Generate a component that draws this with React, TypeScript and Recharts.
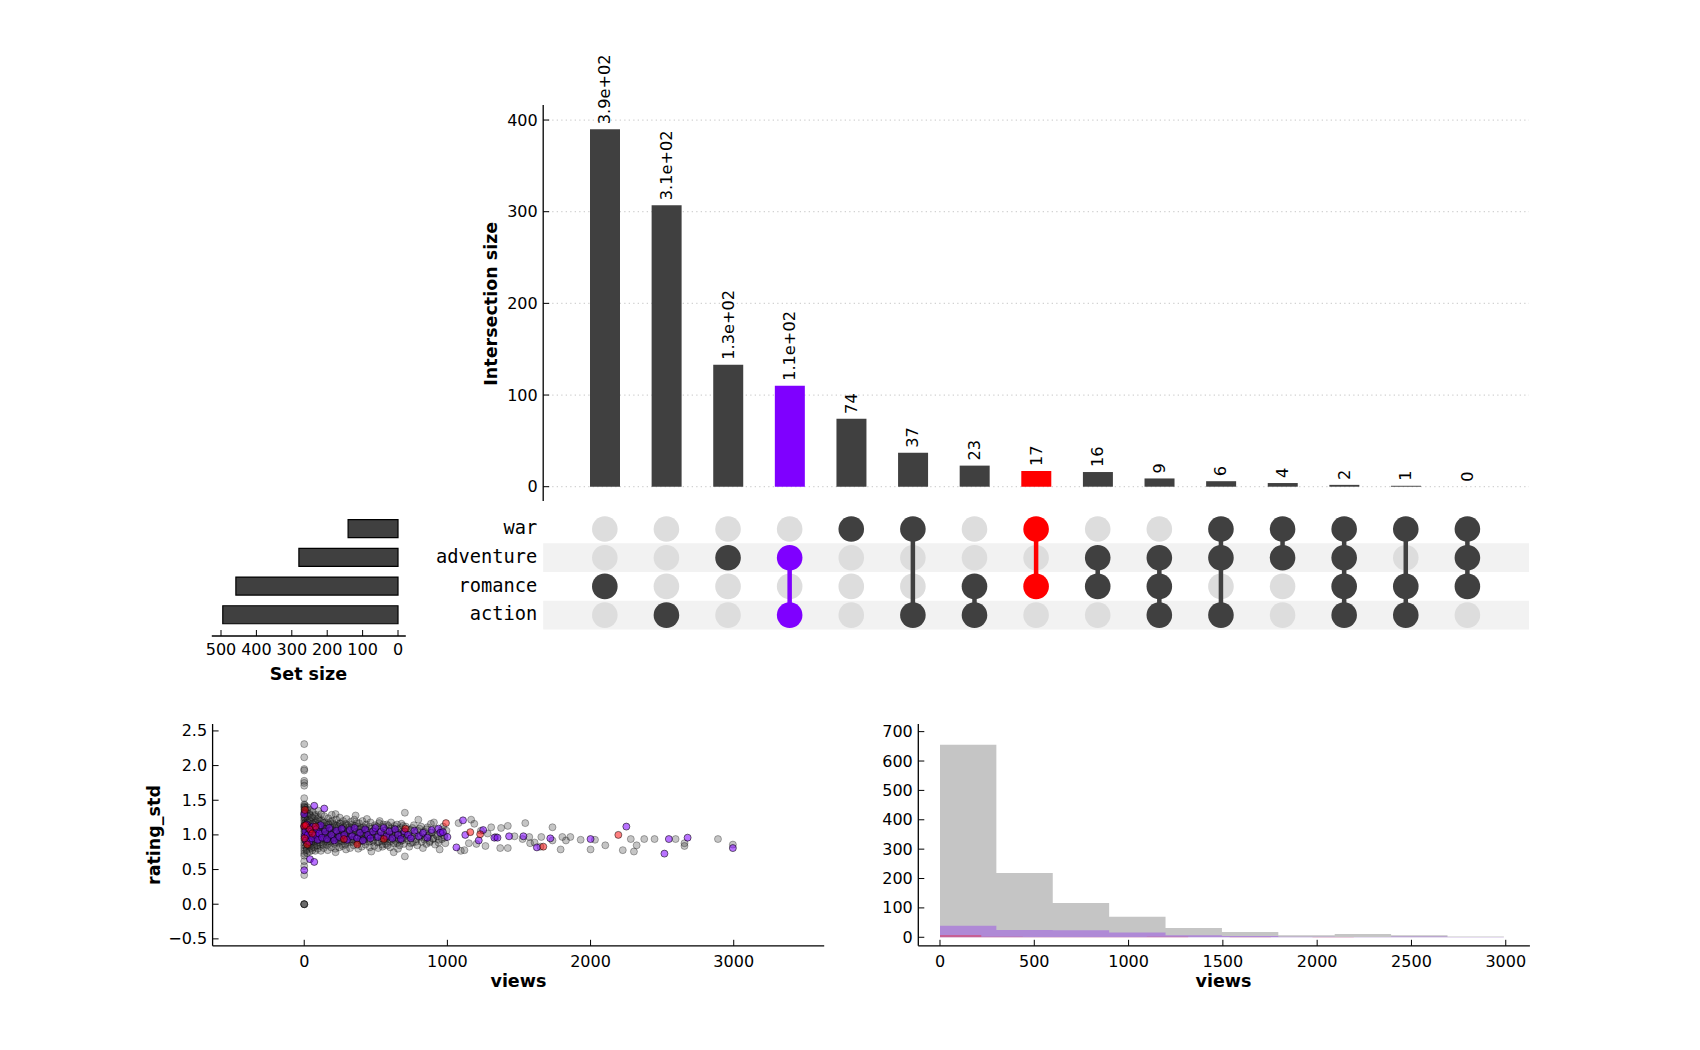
import React from "react";
import {
  Bar,
  Line,
  XAxis,
  YAxis,
  CartesianGrid,
  Cell,
  LabelList,
  ScatterChart,
  Scatter,
  ReferenceArea,
  ComposedChart,
  BarChart,
  Area,
} from "recharts";

const FONT = '"DejaVu Sans", sans-serif';
const MONO = '"DejaVu Sans Mono", monospace';
const DARK = "#404040";
const PURPLE = "#7f00ff";
const RED = "#ff0000";
const OFF = "#dddddd";

// sets, top to bottom in the matrix
const setNames = ["war", "adventure", "romance", "action"];
const setSizes = [141, 280, 458, 495];

// intersections, left to right
const interCounts = [390, 307, 133, 110, 74, 37, 23, 17, 16, 9, 6, 4, 2, 1, 0];
const interMembers = [
  ["romance"],
  ["action"],
  ["adventure"],
  ["adventure", "action"],
  ["war"],
  ["war", "action"],
  ["romance", "action"],
  ["war", "romance"],
  ["adventure", "romance"],
  ["adventure", "romance", "action"],
  ["war", "adventure", "action"],
  ["war", "adventure"],
  ["war", "adventure", "romance", "action"],
  ["war", "romance", "action"],
  ["war", "adventure", "romance"],
];
const interColors = [DARK, DARK, DARK, PURPLE, DARK, DARK, DARK, RED, DARK, DARK, DARK, DARK, DARK, DARK, DARK];

const intersectionTicks = [0, 100, 200, 300, 400];
const setSizeTicks = [500, 400, 300, 200, 100, 0];
const scatterXTicks = [0, 1000, 2000, 3000];
const scatterYTicks = [-0.5, 0, 0.5, 1, 1.5, 2, 2.5];
const histXTicks = [0, 500, 1000, 1500, 2000, 2500, 3000];
const histYTicks = [0, 100, 200, 300, 400, 500, 600, 700];

// views vs rating_std, all movies (grey)
const grayPts = [
  [0, 2.31], [0, 2.12], [0, 1.95], [0, 1.93], [0, 1.78], [0, 1.75], [0, 1.71], [0, 1.53], [0, 1.44], [0, 1.41],
  [0, 1.37], [0, 1.33], [0, 1.29], [0, 1.25], [0, 1.21], [0, 1.17], [0, 1.13], [0, 1.09], [0, 1.05], [0, 1.01],
  [0, 0.97], [0, 0.93], [0, 0.89], [0, 0.85], [0, 0.81], [0, 0.77], [0, 0.73], [0, 0.7], [0, 0.62], [0, 0.55],
  [0, 0.42], [0, 0], [0, 0], [0, 0], [0, 0],
  [4, 1.43], [6, 1.39], [8, 1.34], [9, 1.26], [11, 1.19], [12, 1.12], [14, 1.03], [15, 0.95], [17, 0.88], [18, 0.8],
  [20, 0.74], [22, 1.4], [24, 1.31], [26, 1.22], [28, 1.14], [30, 1.06], [32, 0.98], [34, 0.9], [36, 0.83], [38, 0.76],
  [40, 1.36], [43, 1.28], [45, 1.19], [47, 1.1], [50, 1.02], [52, 0.93], [55, 0.86], [57, 0.78], [60, 1.33], [63, 1.24],
  [65, 1.15], [67, 1.07], [70, 0.99], [72, 0.91], [75, 0.84], [77, 0.77], [80, 1.29], [83, 1.2], [85, 1.11], [88, 1.03],
  [90, 0.95], [92, 0.88], [95, 0.8], [98, 1.35], [100, 1.25], [103, 1.16], [106, 1.08], [108, 0.99], [110, 0.92], [113, 0.84],
  [116, 0.77], [118, 1.3], [121, 1.21], [124, 1.12], [127, 1.04], [130, 0.96], [133, 0.88], [136, 0.81],
  [2, 1.4], [3, 1.32], [5, 1.24], [6, 1.16], [7, 1.08], [9, 1.0], [10, 0.92], [13, 0.84], [16, 0.78], [19, 1.36],
  [21, 1.27], [23, 1.18], [27, 1.1], [29, 1.0], [31, 0.92], [33, 0.85], [37, 1.3], [39, 1.21], [42, 1.12], [44, 1.04],
  [46, 0.96], [49, 0.88], [51, 0.81], [54, 1.25], [58, 1.16], [61, 1.07], [64, 0.98], [66, 0.9], [69, 0.82], [73, 1.27],
  [76, 1.18], [79, 1.09], [82, 1.0], [86, 0.92], [89, 0.85], [93, 1.23], [97, 1.13], [101, 1.05], [104, 0.97], [109, 0.89],
  [112, 1.2], [117, 1.1], [120, 1.02], [126, 0.94], [131, 0.86], [135, 1.17], [142, 1.08], [147, 0.99], [153, 0.91], [158, 1.14],
  [163, 1.05], [170, 0.96], [177, 0.88], [183, 1.19], [190, 1.07], [198, 0.99], [206, 0.92], [214, 1.15], [222, 1.02], [230, 0.94],
  [238, 1.12], [246, 1.03], [254, 0.95], [262, 0.87], [270, 1.14], [278, 1.06], [286, 0.98], [294, 0.9], [303, 1.1], [312, 1.01],
  [322, 0.93], [332, 1.15], [342, 1.06], [352, 0.97], [364, 0.9], [374, 1.12], [385, 1.02], [395, 0.95], [405, 1.06], [415, 0.97],
  [425, 1.1], [436, 1.0], [450, 0.93], [460, 1.04], [475, 0.96], [490, 1.08],
  [150, 1.12], [155, 1.0], [162, 0.9], [167, 1.17], [174, 1.02], [181, 0.93], [186, 1.1], [194, 0.96], [202, 1.16], [210, 1.04],
  [218, 0.9], [226, 1.1], [234, 0.99], [242, 0.92], [250, 1.17], [258, 1.02], [266, 0.95], [274, 1.08], [282, 0.98], [290, 1.16],
  [298, 1.04], [308, 0.92], [318, 1.12], [328, 1.0], [338, 0.9], [348, 1.08], [358, 0.99], [368, 1.17], [378, 1.04], [388, 0.92],
  [398, 1.1], [410, 0.99], [420, 0.9], [430, 1.07], [440, 0.96], [455, 1.12], [466, 1.0], [480, 0.9], [495, 1.0],
  [140, 1.27], [144, 1.18], [148, 1.09], [152, 1.01], [156, 0.93], [160, 0.85], [164, 0.78], [168, 1.24], [172, 1.15], [176, 1.06],
  [180, 0.98], [184, 0.9], [188, 0.82], [192, 1.29], [196, 1.2], [200, 1.11], [204, 1.03], [208, 0.95], [212, 0.87], [216, 0.8],
  [219, 1.3], [219, 0.75], [224, 1.22], [228, 1.13], [232, 1.05], [236, 0.97], [240, 0.89], [244, 0.82], [248, 1.25], [252, 1.16],
  [256, 1.07], [260, 0.99], [264, 0.91], [268, 0.84], [272, 1.2], [276, 1.11], [280, 1.02], [284, 0.94], [288, 0.86], [292, 0.79],
  [296, 1.23], [300, 1.14],
  [305, 1.05], [310, 0.97], [315, 0.89], [320, 0.81], [325, 1.19], [330, 1.1], [335, 1.01], [340, 0.93], [345, 0.85], [350, 1.22],
  [355, 1.13], [359, 1.28], [362, 1.04], [367, 0.96], [372, 0.88], [377, 0.8], [382, 1.17], [387, 1.08], [392, 0.99], [397, 0.91],
  [402, 0.83], [407, 1.2], [412, 1.11], [417, 1.02], [422, 0.94], [427, 0.86], [432, 1.15], [438, 1.23], [443, 1.06], [448, 0.98],
  [453, 0.9], [458, 0.82], [463, 1.18], [469, 0.76], [474, 1.09], [479, 1.0], [484, 0.92], [489, 0.84], [494, 1.14], [499, 1.05],
  [505, 0.97], [511, 0.89], [517, 0.81], [523, 1.17], [529, 1.08], [535, 0.99], [541, 0.91], [547, 0.83], [553, 1.12], [559, 1.03],
  [565, 0.95], [571, 0.87], [577, 1.15], [583, 1.06], [589, 0.98], [595, 0.9], [601, 0.82], [607, 1.1], [613, 1.01], [619, 0.93],
  [625, 0.75], [631, 1.13], [637, 1.04], [643, 0.96], [649, 0.88], [655, 0.8], [661, 1.08], [667, 0.99], [673, 0.91], [679, 1.16],
  [685, 1.05], [691, 0.96], [697, 0.87], [703, 1.32], [703, 0.69],
  [505, 1.12], [512, 1.0], [520, 0.9], [527, 1.2], [533, 1.05], [540, 0.95], [546, 0.86], [552, 1.15], [558, 0.99], [564, 0.91],
  [570, 1.07], [576, 0.96], [582, 0.85], [588, 1.13], [594, 1.01], [600, 0.93], [606, 1.18], [612, 1.06], [618, 0.97], [624, 0.88],
  [630, 1.09], [636, 0.99], [642, 0.91], [648, 1.15], [654, 1.03], [660, 0.94], [666, 0.85], [672, 1.1], [678, 1.0], [684, 0.92],
  [690, 1.13], [696, 1.02], [712, 0.95], [722, 1.08], [732, 0.97], [744, 0.88], [756, 1.1], [768, 0.99], [780, 0.9], [792, 1.06],
  [804, 0.96], [816, 1.12], [828, 1.01], [840, 0.93], [852, 1.08], [864, 0.98], [876, 0.89], [888, 1.03], [900, 0.94], [920, 1.0],
  [940, 0.93], [960, 1.07], [980, 0.96],
  [710, 1.12], [718, 1.01], [726, 0.92], [734, 0.83], [742, 1.07], [750, 0.98], [758, 0.89], [766, 1.14], [774, 1.03], [782, 0.94],
  [790, 0.85], [797, 1.22], [805, 1.09], [813, 0.99], [821, 0.9], [829, 0.81], [837, 1.05], [845, 0.96], [853, 0.87], [861, 1.11],
  [869, 1.0], [877, 0.91], [885, 1.16], [893, 1.04], [901, 0.95], [906, 1.18], [914, 0.86], [922, 1.08], [930, 0.98], [938, 0.89],
  [946, 0.79], [954, 1.03], [962, 0.94], [970, 1.12], [978, 0.99], [986, 0.88], [994, 1.06],
  [1078, 1.17], [1094, 0.77], [1119, 0.78], [1150, 0.88], [1166, 1.22], [1188, 1.16], [1203, 0.87], [1234, 1.06], [1266, 0.84], [1281, 1.02],
  [1306, 1.11], [1338, 0.97], [1369, 0.81], [1375, 1.1], [1422, 1.13], [1422, 0.81], [1469, 0.98], [1525, 0.94], [1544, 1.17], [1572, 0.97],
  [1578, 0.88], [1609, 0.89], [1650, 0.83], [1656, 0.97], [1734, 1.11], [1734, 0.92], [1791, 0.79], [1803, 0.97], [1828, 0.92], [1859, 0.97],
  [1931, 0.93], [2000, 0.79], [2031, 0.93], [2103, 0.85], [2225, 0.78], [2281, 0.94], [2303, 0.76], [2322, 0.85], [2375, 0.94], [2447, 0.94],
  [2594, 0.94], [2656, 0.88], [2656, 0.84], [2890, 0.94], [2994, 0.86],
];

// adventure & action (purple)
const purplePts = [
  [0, 0.49], [0, 1.3], [0, 1.12], [3, 0.98], [8, 1.05], [12, 0.92], [18, 1.15], [25, 1.0], [30, 1.1], [35, 0.9],
  [40, 0.65], [48, 1.05], [55, 0.95], [62, 1.12], [70, 1.42], [70, 0.61], [78, 1.0], [85, 1.08], [95, 0.93], [105, 1.02],
  [115, 1.14], [125, 0.96], [140, 1.38], [145, 1.05], [160, 0.94], [175, 1.1], [190, 1.0], [210, 0.92], [225, 1.06], [245, 0.97],
  [262, 1.09], [280, 1.0], [300, 0.93], [318, 1.07], [335, 0.98], [352, 1.1], [370, 0.95], [390, 1.03], [410, 0.92], [425, 1.08],
  [445, 1.0], [462, 0.95], [480, 1.05], [498, 1.1], [515, 0.97], [535, 1.04], [555, 1.1], [575, 0.98], [595, 1.05], [615, 0.95],
  [635, 1.08], [655, 1.0], [675, 0.94], [700, 1.05], [725, 1.0], [745, 0.95], [770, 1.06], [800, 0.98], [830, 1.03], [860, 0.96],
  [890, 1.07], [938, 1.09], [950, 1.03], [969, 1.04], [1000, 0.97], [1063, 0.82], [1109, 1.21], [1125, 1.0], [1219, 0.92], [1250, 1.07],
  [1328, 0.96], [1350, 0.96], [1431, 0.98], [1531, 0.98], [1625, 0.82], [1719, 0.95], [2000, 0.94], [2250, 1.12], [2516, 0.73], [2547, 0.94],
  [2678, 0.96], [2994, 0.81],
];

// war & romance (red)
const redPts = [
  [0, 1.13], [3, 0.95], [5, 1.36], [10, 1.14], [21, 0.86], [40, 1.08], [56, 1.02], [79, 1.12], [277, 0.94], [370, 0.86],
  [556, 0.94], [707, 1.09], [990, 1.17], [1160, 1.04], [1229, 1.01], [1670, 0.83], [2194, 1.0],
];

// histograms of views
const histEdges = [0, 299, 598, 897, 1196, 1495, 1794, 2093, 2392, 2691, 2990];
const grayHist = [655, 219, 117, 70, 32, 18, 7, 11, 7, 3];
const purpleHist = [39, 25, 24, 16, 7, 4, 2, 1, 3, 1];
const redEdges = [0, 219, 439, 658, 878, 1097, 1316, 1536, 1755, 1975, 2194];
const redHist = [8, 2, 1, 1, 1, 2, 0, 1, 0, 1];

const toPts = (a: number[][]) => a.map(([x, y]) => ({ x, y }));
const stepData = (edges: number[], counts: number[]) =>
  edges.map((x, i) => ({ x, y: counts[Math.min(i, counts.length - 1)] }));

const fmt2g = (v: number) =>
  v >= 100 ? v.toExponential(1).replace(/e\+(\d)$/, "e+0$1") : String(v);

const interData = interCounts.map((c, i) => ({ name: `i${i}`, count: c, color: interColors[i] }));
const setData = setNames.map((n, i) => ({ name: n, size: setSizes[i] }));

// row value: war on top (3) down to action (0)
const rowOf = (s: string) => setNames.length - 1 - setNames.indexOf(s);
const offDots: any[] = [];
const onDots: any[] = [];
const links: any[] = [];
interMembers.forEach((mem, i) => {
  setNames.forEach((s) => {
    const d = { x: i, y: rowOf(s), color: interColors[i] };
    if (mem.includes(s)) onDots.push(d);
    else offDots.push(d);
  });
  if (mem.length > 1) {
    const rows = mem.map(rowOf);
    links.push({ x: i, lo: Math.min(...rows), hi: Math.max(...rows), color: interColors[i] });
  }
});

const txt = { fontFamily: FONT, fontSize: 16, fill: "#000" };

const LeftTick = (p: any) => {
  const { x, y, payload, fmt } = p;
  return (
    <g>
      <line x1={x} y1={y} x2={x + 6} y2={y} stroke="#000" strokeWidth={1} />
      <text x={x - 5.5} y={y} textAnchor="end" dominantBaseline="central" {...txt}>
        {fmt ? fmt(payload.value) : payload.value}
      </text>
    </g>
  );
};

const BottomTick = (p: any) => {
  const { x, y, payload, dy } = p;
  return (
    <g>
      <line x1={x} y1={y} x2={x} y2={y - 6} stroke="#000" strokeWidth={1} />
      <text x={x} y={y + dy} textAnchor="middle" dominantBaseline="central" {...txt}>
        {payload.value}
      </text>
    </g>
  );
};

const RowTick = (p: any) => {
  const { x, y, payload } = p;
  return (
    <text x={x - 6} y={y + 5.2} textAnchor="end" fontFamily={MONO} fontSize={18.7} fill="#000">
      {setNames[setNames.length - 1 - payload.value]}
    </text>
  );
};

// value printed above each bar, read bottom to top
const ValueLabel = (p: any) => {
  const { x, y, value } = p;
  const by = y - 5;
  return (
    <text
      x={x}
      y={by}
      transform={`rotate(-90, ${x}, ${by})`}
      textAnchor="start"
      dominantBaseline="central"
      fontFamily={FONT}
      fontSize={16.2}
      fill="#000"
    >
      {fmt2g(value)}
    </text>
  );
};

const ptShape = (color: string, alpha: number) => (p: any) => (
  <circle cx={p.cx} cy={p.cy} r={3.5} fill={color} fillOpacity={alpha} stroke="#000" strokeOpacity={alpha} strokeWidth={1} />
);

const axisLine = { stroke: "#000", strokeWidth: 1.3 };
const signed = (v: number) => (v < 0 ? "\u2212" + Math.abs(v).toFixed(1) : v.toFixed(1));

const box = (left: number, top: number): React.CSSProperties => ({ position: "absolute", left, top });

export default function App() {
  return (
    <div style={{ position: "absolute", left: 0, top: 0, width: 1700, height: 1050, background: "#fff", fontFamily: FONT }}>
      {/* intersection sizes */}
      <div style={box(0, 0)}>
        <ComposedChart width={1700} height={520} data={interData} margin={{ top: 105, right: 171, bottom: 19, left: 483.2 }}>
          <CartesianGrid vertical={false} syncWithTicks stroke="#d2d2d2" strokeWidth={1.2} strokeDasharray="1.3 3.2" />
          <XAxis dataKey="name" type="category" hide padding={{ left: 30.8, right: 30.8 }} />
          <YAxis
            type="number"
            width={60}
            domain={[-15.6, 416.4]}
            ticks={intersectionTicks}
            allowDataOverflow
            interval={0}
            axisLine={axisLine}
            tickLine={false}
            tickSize={0}
            tickMargin={0}
            tick={(p: any) => <LeftTick {...p} />}
          />
          <Bar dataKey="count" barSize={30} isAnimationActive={false}>
            {interData.map((d, i) => (
              <Cell key={i} fill={d.color} />
            ))}
          </Bar>
          <Line dataKey="count" stroke="none" dot={false} activeDot={false} isAnimationActive={false}>
            <LabelList dataKey="count" content={ValueLabel} />
          </Line>
        </ComposedChart>
      </div>

      {/* membership matrix */}
      <div style={box(0, 0)}>
        <ScatterChart width={1700} height={650} margin={{ top: 514.65, right: 171, bottom: 20.55, left: 443.2 }}>
          <XAxis type="number" dataKey="x" domain={[-1, 15]} hide allowDataOverflow />
          <YAxis
            type="number"
            dataKey="y"
            domain={[-0.5, 3.5]}
            ticks={[0, 1, 2, 3]}
            width={100}
            allowDataOverflow
            interval={0}
            axisLine={false}
            tickLine={false}
            tickSize={0}
            tickMargin={0}
            tick={(p: any) => <RowTick {...p} />}
          />
          {setNames.map((s, i) =>
            i % 2 === 1 ? (
              <ReferenceArea key={s} x1={-1} x2={15} y1={rowOf(s) - 0.5} y2={rowOf(s) + 0.5} fill="#f2f2f2" fillOpacity={1} stroke="none" />
            ) : null
          )}
          <Scatter data={offDots} isAnimationActive={false} shape={(p: any) => <circle cx={p.cx} cy={p.cy} r={12.8} fill={OFF} />} />
          {links.map((l) => (
            <Scatter
              key={`l${l.x}`}
              data={[{ x: l.x, y: l.lo }, { x: l.x, y: l.hi }]}
              line={{ stroke: l.color, strokeWidth: 4.5 }}
              fill={l.color}
              shape={() => <g />}
              isAnimationActive={false}
            />
          ))}
          <Scatter
            data={onDots}
            isAnimationActive={false}
            shape={(p: any) => <circle cx={p.cx} cy={p.cy} r={12.8} fill={p.payload?.color ?? DARK} />}
          />
        </ScatterChart>
      </div>

      {/* set sizes */}
      <div style={box(0, 0)}>
        <BarChart layout="vertical" width={460} height={700} data={setData} margin={{ top: 514.65, right: 54.2, bottom: 14, left: 211.8 }}>
          <XAxis
            type="number"
            domain={[-22, 526]}
            reversed
            ticks={setSizeTicks}
            allowDataOverflow
            interval={0}
            height={50}
            axisLine={axisLine}
            tickLine={false}
            tickSize={0}
            tickMargin={0}
            tick={(p: any) => <BottomTick {...p} dy={13.7} />}
          />
          <YAxis type="category" dataKey="name" hide padding={{ top: 0, bottom: 6.55 }} />
          <Bar dataKey="size" fill={DARK} stroke="#000" strokeWidth={1.2} barSize={18} isAnimationActive={false} />
        </BarChart>
      </div>

      {/* views vs rating_std */}
      <div style={box(0, 640)}>
        <ScatterChart width={870} height={380} margin={{ top: 84, right: 45.8, bottom: 34.2, left: 152.6 }}>
          <XAxis
            type="number"
            dataKey="x"
            domain={[-640, 3632]}
            ticks={scatterXTicks}
            allowDataOverflow
            interval={0}
            height={40}
            axisLine={axisLine}
            tickLine={false}
            tickSize={0}
            tickMargin={0}
            tick={(p: any) => <BottomTick {...p} dy={15.2} />}
          />
          <YAxis
            type="number"
            dataKey="y"
            domain={[-0.6, 2.6]}
            ticks={scatterYTicks}
            allowDataOverflow
            interval={0}
            width={60}
            axisLine={axisLine}
            tickLine={false}
            tickSize={0}
            tickMargin={0}
            tick={(p: any) => <LeftTick {...p} fmt={signed} />}
          />
          <Scatter data={toPts(grayPts)} shape={ptShape(DARK, 0.3)} isAnimationActive={false} />
          <Scatter data={toPts(purplePts)} shape={ptShape(PURPLE, 0.55)} isAnimationActive={false} />
          <Scatter data={toPts(redPts)} shape={ptShape(RED, 0.5)} isAnimationActive={false} />
        </ScatterChart>
      </div>

      {/* histogram of views */}
      <div style={box(860, 640)}>
        <ComposedChart width={700} height={380} margin={{ top: 84, right: 30.1, bottom: 34.2, left: 8.3 }}>
          <XAxis
            type="number"
            dataKey="x"
            domain={[-115, 3128]}
            ticks={histXTicks}
            allowDataOverflow
            interval={0}
            height={40}
            axisLine={axisLine}
            tickLine={false}
            tickSize={0}
            tickMargin={0}
            tick={(p: any) => <BottomTick {...p} dy={15.2} />}
          />
          <YAxis
            type="number"
            domain={[-29, 726]}
            ticks={histYTicks}
            allowDataOverflow
            interval={0}
            width={50}
            axisLine={axisLine}
            tickLine={false}
            tickSize={0}
            tickMargin={0}
            tick={(p: any) => <LeftTick {...p} />}
          />
          <Area data={stepData(histEdges, grayHist)} dataKey="y" type="stepAfter" baseValue={0} fill={DARK} fillOpacity={0.3} stroke="none" isAnimationActive={false} />
          <Area data={stepData(histEdges, purpleHist)} dataKey="y" type="stepAfter" baseValue={0} fill={PURPLE} fillOpacity={0.3} stroke="none" isAnimationActive={false} />
          <Area data={stepData(redEdges, redHist)} dataKey="y" type="stepAfter" baseValue={0} fill={RED} fillOpacity={0.3} stroke="none" isAnimationActive={false} />
        </ComposedChart>
      </div>

      {/* axis titles */}
      <svg width={1700} height={1050} style={{ position: "absolute", left: 0, top: 0, pointerEvents: "none" }}>
        <g fontFamily={FONT} fontWeight="bold" fontSize={17.5} fill="#000">
          <text x={496.8} y={303.7} textAnchor="middle" transform="rotate(-90, 496.8, 303.7)">Intersection size</text>
          <text x={308.4} y={680} textAnchor="middle">Set size</text>
          <text x={160} y={835} textAnchor="middle" transform="rotate(-90, 160, 835)">rating_std</text>
          <text x={518.4} y={987} textAnchor="middle">views</text>
          <text x={1223.5} y={987} textAnchor="middle">views</text>
        </g>
      </svg>
    </div>
  );
}
